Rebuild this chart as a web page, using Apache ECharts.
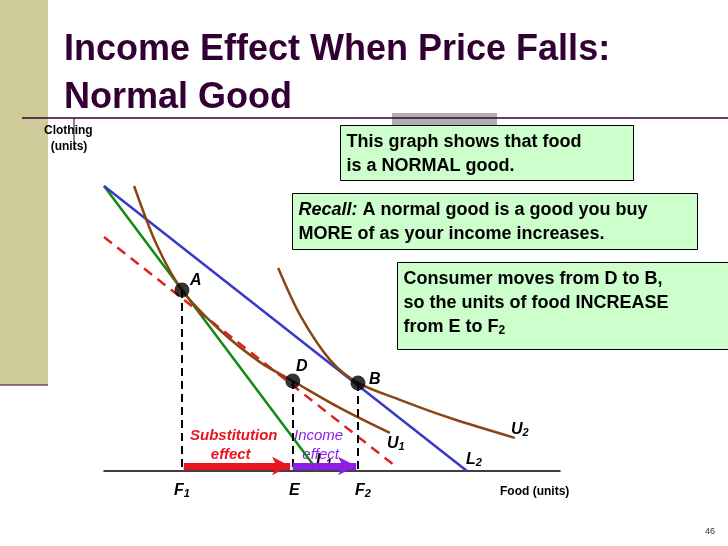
<!DOCTYPE html>
<html><head><meta charset="utf-8">
<script src="https://cdn.jsdelivr.net/npm/echarts@6/dist/echarts.min.js"></script>
<style>html,body{margin:0;padding:0;background:#fff}#main{width:728px;height:546px}</style>
</head><body><div id="main"></div>
<script>
// Daten in Achseneinheiten (x: Food 0..100, y: Clothing 0..100)
var budgetL1 = [[0, 86.1], [46.9, 0]];
var budgetL2 = [[0, 86.1], [79.6, 0]];
var budgetDashed = [[0, 70.7], [63.6, 1.8]];
var curveU1 = [[6.6, 86.1], [11.5, 68.5], [17.1, 54.7], [25.4, 42.6], [34.2, 32.9], [41.4, 27.2], [51.8, 19], [62.7, 11.5]];
var curveU2 = [[38.2, 61.3], [43, 47.1], [49.6, 33.5], [55.7, 26.6], [64.9, 21.5], [75.9, 16], [90.1, 10]];
var pointsABD = [['A', 17.1, 54.7], ['D', 41.4, 27.2], ['B', 55.7, 26.6]];
var subArrow = [[17.5, 1.5], [40.8, 1.5]];
var incArrow = [[41.4, 1.5], [55.3, 1.5]];

var myChart = echarts.init(document.getElementById('main'));
var font = 'Liberation Sans, Arial, sans-serif';
var sub = { font: 'bold italic 11px ' + font, padding: [0, 0, -6, 0] };

function txt(x, y, s, opt) {
  return { type: 'text', left: x, top: y, style: Object.assign({ text: s, font: 'bold italic 16px ' + font, fill: '#000', rich: { s: sub } }, opt || {}) };
}
function box(x, y, w, h, s) {
  return { type: 'group', left: x, top: y, children: [
    { type: 'rect', shape: { width: w, height: h }, style: { fill: '#ccffcc', stroke: '#000', lineWidth: 1 } },
    { type: 'text', left: 6, top: 5, style: { rich: { i: { font: 'bold italic 18px ' + font, lineHeight: 24 }, s: { font: 'bold 12px ' + font, padding: [0, 0, -6, 0] } }, text: s, font: 'bold 18px ' + font, lineHeight: 24, fill: '#000' } }
  ]};
}

var option = {
  animation: false,
  grid: { left: 104, top: 140, width: 456, height: 331 },
  xAxis: { type: 'value', min: 0, max: 100, axisLine: { lineStyle: { color: '#000', width: 1.5 } }, axisTick: { show: false }, axisLabel: { show: false }, splitLine: { show: false } },
  yAxis: { type: 'value', min: 0, max: 100, axisLine: { show: false }, axisTick: { show: false }, axisLabel: { show: false }, splitLine: { show: false } },
  graphic: [
    { type: 'rect', shape: { x: 0, y: 0, width: 48, height: 385 }, style: { fill: '#cfcb9a' } },
    { type: 'rect', shape: { x: 392, y: 113, width: 105, height: 13 }, style: { fill: '#b0b0b0' } },
    { type: 'line', shape: { x1: 22, y1: 118, x2: 728, y2: 118 }, style: { stroke: '#330033', lineWidth: 1.5 } },
    { type: 'line', shape: { x1: 74, y1: 118, x2: 74, y2: 150 }, style: { stroke: '#330033', lineWidth: 1 } },
    { type: 'line', shape: { x1: 0, y1: 385, x2: 48, y2: 385 }, style: { stroke: '#330033', lineWidth: 1 } },
    { type: 'text', left: 64, top: 26, style: { text: 'Income Effect When Price Falls:\nNormal Good', font: 'bold 36px ' + font, lineHeight: 48, fill: '#330033' } },
    { type: 'text', left: 44, top: 123, style: { text: 'Clothing\n  (units)', font: 'bold 12px ' + font, lineHeight: 16, fill: '#000' } },
    box(340, 125, 293, 55, 'This graph shows that food\nis a NORMAL good.'),
    box(292, 193, 405, 56, '{i|Recall:} A normal good is a good you buy\nMORE of as your income increases.'),
    box(397, 262, 331, 87, 'Consumer moves from D to B,\nso the units of food INCREASE\nfrom E to F{s|2}'),
    txt(190, 273, 'A'), txt(296, 359, 'D'), txt(369, 372, 'B'),
    txt(387, 436, 'U{s|1}'),
    txt(511, 422, 'U{s|2}'),
    txt(466, 452, 'L{s|2}'),
    txt(316, 453, 'L{s|1}'),
    txt(174, 483, 'F{s|1}'),
    txt(289, 483, 'E'),
    txt(355, 483, 'F{s|2}'),
    { type: 'text', left: 500, top: 486, style: { text: 'Food (units)', font: 'bold 12px ' + font, fill: '#000' } },
    txt(190, 426, 'Substitution\n     effect', { font: 'bold italic 15px ' + font, lineHeight: 19, fill: '#e8141e' }),
    txt(294, 426, 'Income\n  effect', { font: 'italic 15px ' + font, lineHeight: 19, fill: '#8c1ee6' }),
    { type: 'text', left: 705, top: 527, style: { text: '46', font: '9px ' + font, fill: '#333' } }
  ],
  series: [
    { type: 'line', data: budgetL1, symbol: 'none', lineStyle: { color: '#108a10', width: 2.5 } },
    { type: 'line', data: budgetL2, symbol: 'none', lineStyle: { color: '#3838c8', width: 2.5 } },
    { type: 'line', data: budgetDashed, symbol: 'none', lineStyle: { color: '#e02020', width: 2.5, type: [10, 7] } },
    { type: 'line', data: curveU1, smooth: 0.3, symbol: 'none', lineStyle: { color: '#8b4513', width: 2.5 } },
    { type: 'line', data: curveU2, smooth: 0.3, symbol: 'none', lineStyle: { color: '#8b4513', width: 2.5 } },
    { type: 'scatter', data: pointsABD.map(function (p) { return [p[1], p[2]]; }), symbolSize: 15, itemStyle: { color: '#000' }, z: 5,
      markLine: { silent: true, symbol: 'none', label: { show: false }, lineStyle: { color: '#000', type: [8, 5], width: 2 },
        data: pointsABD.map(function (p) { return [{ coord: [p[1], p[2]] }, { coord: [p[1], 0] }]; }) } },
    { type: 'line', data: [], markLine: { silent: true, symbol: ['none', 'arrow'], symbolSize: [14, 18], label: { show: false },
        data: [
          [{ coord: subArrow[0], lineStyle: { color: '#e8141e', width: 7, type: 'solid' } }, { coord: subArrow[1] }],
          [{ coord: incArrow[0], lineStyle: { color: '#8c1ee6', width: 7, type: 'solid' } }, { coord: incArrow[1] }]
        ] } }
  ]
};

myChart.setOption(option);
</script></body></html>
